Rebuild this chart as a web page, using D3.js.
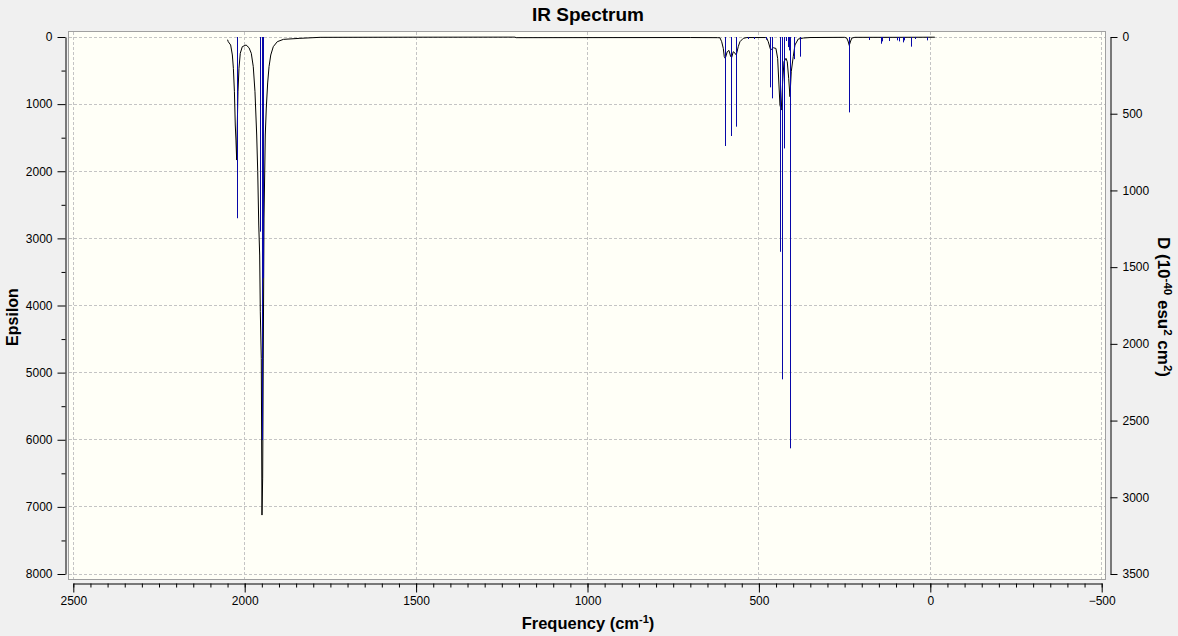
<!DOCTYPE html>
<html>
<head>
<meta charset="utf-8">
<script src="https://cdn.jsdelivr.net/npm/d3@7"></script>
<style>
  body { margin: 0; background: #f0f0f0; }
  svg { display: block; font-family: "Liberation Sans", Arial, sans-serif; }
</style>
</head>
<body>
<svg></svg>
<script>
const width = 1178;
const height = 636;

// stick spectrum (frequency cm-1, epsilon)
const stickFreq = [2023.4, 1956.4, 1949.6, 1945.7, 598.1, 580.6, 566, 531, 515, 480, 467, 461,
  437.7, 432, 426, 421, 416, 412, 408.5, 397, 380, 236.4, 178, 145, 140, 121.5, 98, 92.4,
  80.7, 77, 57.3, 44.7, 10.6];
const stickEps = [2700, 2900, 6005, 3590, 1624, 1475, 1336, 30, 30, 40, 750, 914,
  3200, 5100, 1660, 60, 150, 200, 6128, 330, 293, 1123, 45, 100, 65, 60, 50, 65,
  80, 50, 144, 30, 50];

// broadened curve
const curveFreq = [2050, 2048, 2041, 2036, 2033, 2030, 2027.5, 2025.5, 2023.4, 2021.6, 2019.6,
  2016.7, 2012.9, 2007, 1996, 1987.5, 1980.8, 1975, 1970, 1965, 1962, 1959, 1956.3, 1954.5,
  1951.6, 1949.6, 1947.6, 1945.8, 1943.7, 1940, 1937, 1933, 1929, 1924, 1916.6, 1905, 1887,
  1839, 1780, 1500, 1212, 1208, 700, 620, 613.6, 608.6, 603.9, 601, 598.1, 592.3, 587.3, 582.3,
  579.4, 574.8, 569.8, 566, 560.2, 555.3, 545.6, 535, 480, 477.4, 472.7, 465.7, 458.1, 450.3,
  445.3, 441.5, 438.6, 434.8, 430.7, 426.8, 421, 417.3, 413.1, 409.4, 405.6, 399.8, 394.8,
  385.2, 370, 351, 250, 244, 240, 236.4, 232.4, 228.6, 220, 100, -13];
const curveEps = [40, 70, 119, 268, 467, 815, 1311, 1535, 1833, 1311, 815,
  467, 243, 144, 119, 159, 243, 442, 815, 1460, 2007, 2801, 3248, 4093,
  4787, 7122, 6571, 4783, 2697, 1460, 1058, 685, 442, 268, 144, 70, 35,
  20, 5, 3, 2, 10, 8, 10, 12, 70, 169, 293, 318, 219, 200, 293,
  305, 219, 240, 268, 144, 70, 20, 8, 8, 15, 70, 194, 160, 170,
  318, 715, 1013, 1088, 666, 368, 318, 368, 616, 889, 517, 293, 119,
  30, 15, 8, 5, 15, 60, 125, 60, 15, 5, 5, 3];

const xTicks = [2500, 2000, 1500, 1000, 500, 0, -500];
const epsTicks = [0, 1000, 2000, 3000, 4000, 5000, 6000, 7000, 8000];
const dTicks = [0, 500, 1000, 1500, 2000, 2500, 3000, 3500];

window.onload = () => {
  const svg = d3.select('svg')
      .attr('width', width)
      .attr('height', height);

  const x = d3.scaleLinear().domain([2500, -500]).range([73.3, 1101.7]);
  const y = d3.scaleLinear().domain([0, 8000]).range([37, 574]);
  const yD = d3.scaleLinear().domain([0, 3500]).range([37, 574]);

  // plot area
  svg.append('rect')
      .attr('x', 68.5).attr('y', 31.5)
      .attr('width', 1037).attr('height', 548)
      .attr('fill', '#fffff7')
      .attr('stroke', '#a0a0a0');

  // grid
  const grid = svg.append('g')
      .attr('stroke', '#c4c4c4')
      .attr('stroke-dasharray', '3,2')
      .attr('shape-rendering', 'crispEdges');
  grid.selectAll('line.h').data(epsTicks).join('line')
      .attr('x1', 69).attr('x2', 1105)
      .attr('y1', d => y(d)).attr('y2', d => y(d));
  grid.selectAll('line.v').data(xTicks).join('line')
      .attr('y1', 32).attr('y2', 579)
      .attr('x1', d => x(d)).attr('x2', d => x(d));

  // curve
  const line = d3.line()
      .x(d => x(d))
      .y((d, i) => y(curveEps[i]));
  svg.append('path')
      .datum(curveFreq)
      .attr('d', line)
      .attr('fill', 'none')
      .attr('stroke', '#000')
      .attr('stroke-width', 1);

  // sticks on top
  svg.append('g')
      .attr('stroke', '#0808a8')
      .attr('stroke-width', 1)
    .selectAll('line').data(stickFreq).join('line')
      .attr('x1', d => Math.round(x(d)) + 0.5)
      .attr('x2', d => Math.round(x(d)) + 0.5)
      .attr('y1', y(0))
      .attr('y2', (d, i) => y(stickEps[i]));

  // axes
  const axisFont = g => g.selectAll('text')
      .attr('font-size', 12)
      .attr('font-family', '"Liberation Sans", Arial, sans-serif')
      .attr('fill', '#000');

  const gx = svg.append('g')
      .attr('transform', 'translate(0,583.5)')
      .call(d3.axisBottom(x).tickValues(xTicks).tickSize(9).tickSizeOuter(0).tickPadding(4)
        .tickFormat(d3.format('d')));
  gx.call(axisFont);
  svg.append('g')
      .attr('transform', 'translate(0,583.5)')
      .call(d3.axisBottom(x).ticks(60).tickSize(4).tickFormat(''))
      .select('.domain').remove();

  const gy = svg.append('g')
      .attr('transform', 'translate(65.5,0)')
      .call(d3.axisLeft(y).tickValues(epsTicks).tickSize(8).tickSizeOuter(0).tickPadding(5)
        .tickFormat(d3.format('d')));
  gy.call(axisFont);
  svg.append('g')
      .attr('transform', 'translate(65.5,0)')
      .call(d3.axisLeft(y).tickValues(d3.range(500, 8000, 1000)).tickSize(4).tickFormat(''))
      .select('.domain').remove();

  const gd = svg.append('g')
      .attr('transform', 'translate(1110.5,0)')
      .call(d3.axisRight(yD).tickValues(dTicks).tickSize(7).tickSizeOuter(0).tickPadding(5)
        .tickFormat(d3.format('d')));
  gd.call(axisFont);

  // titles
  svg.append('text')
      .attr('x', 588).attr('y', 21)
      .attr('text-anchor', 'middle')
      .attr('font-size', 19).attr('font-weight', 'bold')
      .text('IR Spectrum');

  const xl = svg.append('text')
      .attr('x', 588).attr('y', 629)
      .attr('text-anchor', 'middle')
      .attr('font-size', 16.5).attr('font-weight', 'bold');
  xl.append('tspan').text('Frequency (cm');
  xl.append('tspan').attr('font-size', 11).attr('dy', -6).text('-1');
  xl.append('tspan').attr('dy', 6).text(')');

  svg.append('text')
      .attr('transform', 'translate(18,317) rotate(-90)')
      .attr('text-anchor', 'middle')
      .attr('font-size', 16).attr('font-weight', 'bold')
      .text('Epsilon');

  const dl = svg.append('text')
      .attr('transform', 'translate(1158,307) rotate(90)')
      .attr('text-anchor', 'middle')
      .attr('font-size', 17).attr('font-weight', 'bold');
  dl.append('tspan').text('D (10');
  dl.append('tspan').attr('font-size', 11.5).attr('dy', -6).text('-40');
  dl.append('tspan').attr('dy', 6).text(' esu');
  dl.append('tspan').attr('font-size', 11.5).attr('dy', -6).text('2');
  dl.append('tspan').attr('dy', 6).text(' cm');
  dl.append('tspan').attr('font-size', 11.5).attr('dy', -6).text('2');
  dl.append('tspan').attr('dy', 6).text(')');
};
</script>
</body>
</html>
